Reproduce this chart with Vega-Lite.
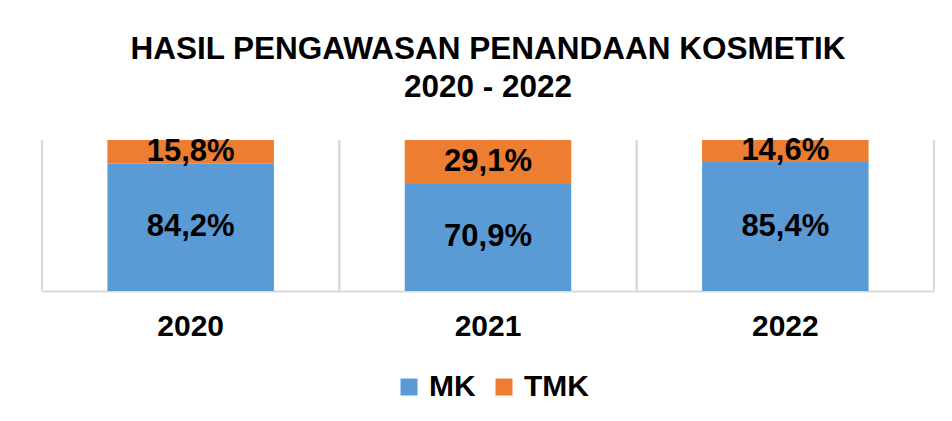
{
  "$schema": "https://vega.github.io/schema/vega-lite/v6.json",
  "width": 892,
  "height": 151,
  "padding": {"left": 40, "top": 33, "right": 18, "bottom": 20},
  "background": "white",
  "config": {
    "locale": {"number": {"decimal": ",", "thousands": ".", "grouping": [3], "currency": ["Rp", ""]}},
    "view": {"stroke": null},
    "font": "Liberation Sans"
  },
  "title": {
    "text": ["HASIL PENGAWASAN PENANDAAN KOSMETIK", "2020 - 2022"],
    "font": "Liberation Sans",
    "fontSize": 31.5,
    "fontWeight": "bold",
    "color": "#000000",
    "lineHeight": 38,
    "anchor": "middle",
    "offset": 32
  },
  "data": {
    "values": [
      {"year": "2020", "status": "MK", "value": 0.842},
      {"year": "2020", "status": "TMK", "value": 0.158},
      {"year": "2021", "status": "MK", "value": 0.709},
      {"year": "2021", "status": "TMK", "value": 0.291},
      {"year": "2022", "status": "MK", "value": 0.854},
      {"year": "2022", "status": "TMK", "value": 0.146}
    ]
  },
  "encoding": {
    "x": {
      "field": "year",
      "type": "nominal",
      "title": null,
      "scale": {"paddingInner": 0.44, "paddingOuter": 0.22},
      "axis": {
        "labelAngle": 0,
        "labelFont": "Liberation Sans",
        "labelFontSize": 30,
        "labelFontWeight": "bold",
        "labelColor": "#000000",
        "labelPadding": 20,
        "ticks": false,
        "domainColor": "#D9D9D9",
        "domainWidth": 2,
        "grid": false
      }
    }
  },
  "layer": [
    {
      "mark": {"type": "rule", "stroke": "#D9D9D9", "strokeWidth": 2},
      "encoding": {
        "x": {"field": "year", "type": "nominal", "bandPosition": -0.3929}
      }
    },
    {
      "transform": [{"filter": "datum.year == '2022'"}],
      "mark": {"type": "rule", "stroke": "#D9D9D9", "strokeWidth": 2},
      "encoding": {
        "x": {"field": "year", "type": "nominal", "bandPosition": 1.3929}
      }
    },
    {
      "mark": {"type": "bar"},
      "encoding": {
        "y": {
          "field": "value",
          "type": "quantitative",
          "stack": "normalize",
          "axis": null
        },
        "order": {"field": "status"},
        "color": {
          "field": "status",
          "type": "nominal",
          "scale": {"domain": ["MK", "TMK"], "range": ["#5B9BD5", "#ED7D31"]},
          "legend": {
            "title": null,
            "orient": "none",
            "legendX": 352,
            "legendY": 232,
            "padding": 0,
            "direction": "horizontal",
            "symbolType": "square",
            "symbolSize": 289,
            "symbolStrokeWidth": 0,
            "labelFont": "Liberation Sans",
            "labelFontSize": 30,
            "labelFontWeight": "bold",
            "labelColor": "#000000",
            "labelOffset": 5,
            "columnPadding": 13
          }
        }
      }
    },
    {
      "mark": {"type": "text", "font": "Liberation Sans", "fontSize": 31, "fontWeight": "bold", "color": "#000000", "baseline": "middle"},
      "encoding": {
        "y": {
          "field": "value",
          "type": "quantitative",
          "stack": "normalize",
          "bandPosition": 0.5,
          "axis": null
        },
        "detail": {"field": "status", "type": "nominal"},
        "order": {"field": "status"},
        "text": {"field": "value", "type": "quantitative", "format": ".1%"}
      }
    }
  ]
}
